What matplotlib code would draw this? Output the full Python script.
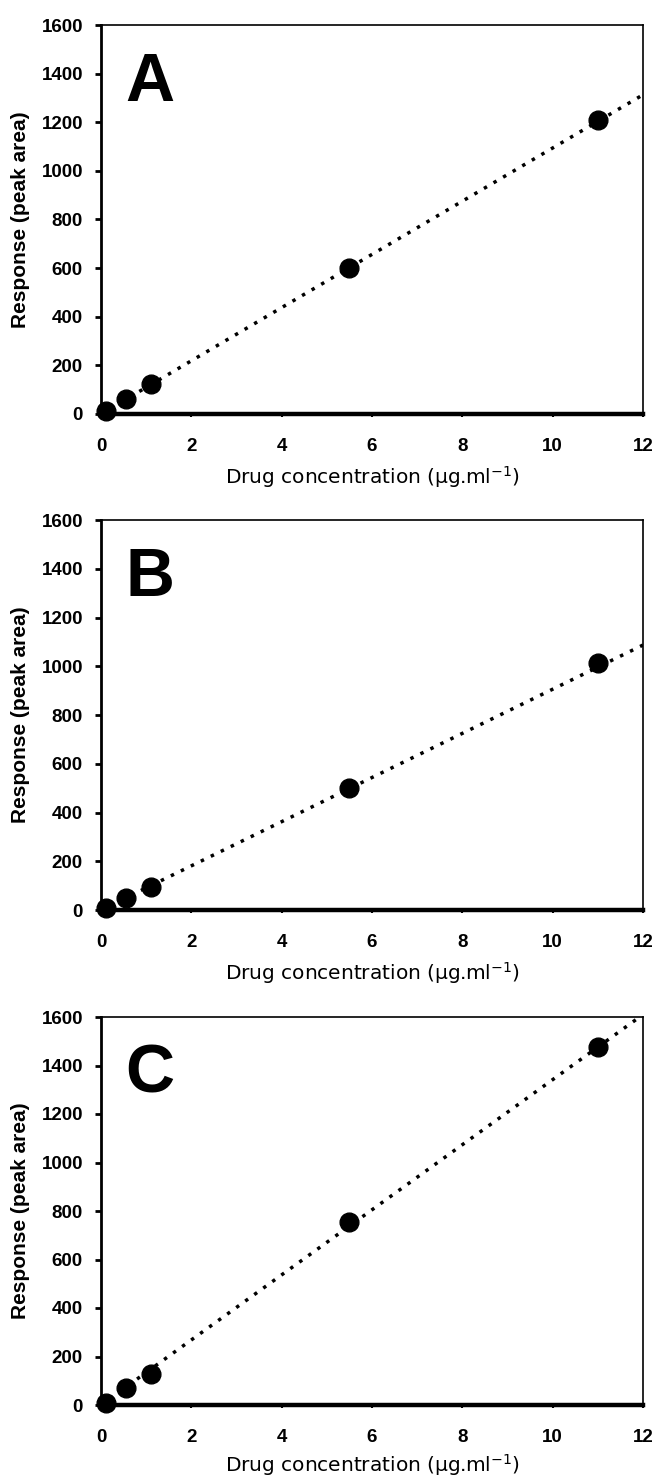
import numpy as np
import matplotlib
matplotlib.use("Agg")
import matplotlib.pyplot as plt

# calibration data
conc = [0.11, 0.55, 1.1, 5.5, 11.0]
resp_a = [14, 60, 123, 600, 1210]
resp_b = [8, 49, 94, 500, 1015]
resp_c = [10, 69, 128, 753, 1475]

# trend lines (start / end values)
trend_x = [0.0, 12.0]
trend_a = [0, 1313]
trend_b = [0, 1087]
trend_c = [0, 1610]

panels = ['A', 'B', 'C']
x_ticks = [0, 2, 4, 6, 8, 10, 12]
y_ticks = [0, 200, 400, 600, 800, 1000, 1200, 1400, 1600]

W, H = 656, 1480
fig = plt.figure(figsize=(W / 100, H / 100), dpi=100)

# axes boxes in pixels: (top, bottom), and x-label offset below the axis
boxes = [(25, 414), (520, 910), (1017, 1405)]
xlab_off = [63, 63, 60]
left_px, right_px = 101, 643

bold = dict(family='Liberation Sans', weight='bold')

for (top, bot), off, name, resp, trend in zip(boxes, xlab_off, panels,
                                               [resp_a, resp_b, resp_c],
                                               [trend_a, trend_b, trend_c]):
    ax = fig.add_axes([left_px / W, 1 - bot / H,
                       (right_px - left_px) / W, (bot - top) / H])
    ax.plot(trend_x, trend, color='black', lw=2.5, ls=(0, (1, 2.2)),
            dash_capstyle='butt', zorder=2)
    ax.plot(conc, resp, 'o', color='black', ms=13.5, zorder=3, clip_on=False)

    ax.set_xlim(0, 12)
    ax.set_ylim(0, 1600)
    ax.set_xticks(x_ticks)
    ax.set_yticks(y_ticks)
    ax.set_xticklabels([str(t) for t in x_ticks], fontsize=13.5, **bold)
    ax.set_yticklabels([str(t) for t in y_ticks], fontsize=13.5, **bold)
    ax.tick_params(axis='y', direction='out', length=4.5, width=2, pad=8.5)
    ax.tick_params(axis='x', direction='out', length=2.5, width=1.5, pad=15)

    ax.spines['bottom'].set_linewidth(3.2)
    ax.spines['left'].set_linewidth(2)
    ax.spines['top'].set_linewidth(1.2)
    ax.spines['right'].set_linewidth(1.2)

    ax.set_ylabel('Response (peak area)', fontsize=15, **bold)
    ax.yaxis.set_label_coords(-0.131, 0.5)
    xl = ax.set_xlabel('Drug concentration (µg.ml$^{-1}$)', fontsize=14.5,
                       family='DejaVu Sans', va='center')
    ax.xaxis.set_label_coords(0.5, -off / (bot - top))

    ax.text(0.045, 0.805, name, transform=ax.transAxes, fontsize=49,
            ha='left', va='baseline', **bold)

fig.savefig('out.png', dpi=100)
